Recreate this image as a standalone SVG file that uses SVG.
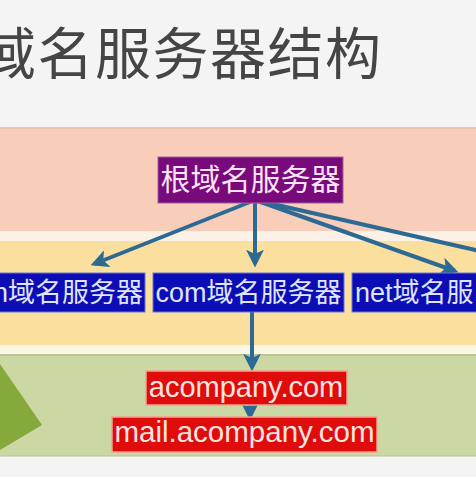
<svg xmlns="http://www.w3.org/2000/svg" width="476" height="477" viewBox="0 0 476 477">
  <style>
    .title { font-family: "Noto Sans CJK SC", sans-serif; font-size: 56px; fill: #454545; letter-spacing: 1.5px; }
    .lbl { font-family: "Liberation Sans", "Noto Sans CJK SC", sans-serif; }
    .root-t { font-size: 30px; fill: #fbe2f6; }
    .blue-t { font-size: 27px; fill: #dfe4ff; }
    .red-t { font-size: 29px; fill: #ffe4e0; }
    .blue { fill: #0d0db6; stroke: #6b74d8; stroke-width: 1; }
    .red { fill: #e00b0b; stroke: #f5a090; stroke-width: 1.5; }
    .conn line { stroke: #2c6a94; stroke-width: 4; marker-end: url(#ah); }
  </style>
  <defs>
    <marker id="ah" viewBox="0 0 10 10" refX="8" refY="5" markerWidth="4.5" markerHeight="4.5" orient="auto" markerUnits="strokeWidth">
      <path d="M0,0 L10,5 L0,10 L2.5,5 Z" fill="#2c6a94"/>
    </marker>
  </defs>

  <!-- background and bands -->
  <rect x="0" y="0" width="476" height="477" fill="#f4f4f4"/>
  <rect x="0" y="127" width="476" height="104" fill="#f8ceba"/>
  <line x1="0" y1="128" x2="476" y2="128" stroke="#e8c0ad" stroke-width="1.5"/>
  <rect x="0" y="231" width="476" height="10" fill="#fbf1e6"/>
  <rect x="0" y="241" width="476" height="104" fill="#fbdf9e"/>
  <rect x="0" y="345" width="476" height="9" fill="#fbf6e4"/>
  <rect x="0" y="354" width="476" height="102" fill="#cbd8a3"/>
  <line x1="0" y1="355" x2="476" y2="355" stroke="#a9b48a" stroke-width="1.2"/>
  <line x1="0" y1="456" x2="476" y2="456" stroke="#b9c199" stroke-width="1"/>
  <polygon points="0,364 42,425 0,450" fill="#85a93b"/>

  <text class="title" x="-20" y="74">域名服务器结构</text>

  <!-- connectors -->
  <g id="connectors" class="conn">
    <line x1="255" y1="200" x2="94" y2="264"/>
    <line x1="255" y1="200" x2="255" y2="264"/>
    <line x1="255" y1="200" x2="455" y2="271"/>
    <line x1="255" y1="200" x2="480" y2="251" style="marker-end:none"/>
    <line x1="252" y1="308" x2="252" y2="368"/>
    <line x1="250" y1="403" x2="250" y2="417"/>
  </g>

  <g id="root">
    <rect x="158" y="157" width="185" height="46" fill="#780a7c" stroke="#a060a0" stroke-width="1"/>
    <text class="lbl root-t" x="250.5" y="190" text-anchor="middle">根域名服务器</text>
  </g>

  <g id="cn">
    <rect class="blue" x="-2" y="273" width="147" height="39"/>
    <text class="lbl blue-t" x="143" y="302" text-anchor="end">n域名服务器</text>
  </g>

  <g id="com">
    <rect class="blue" x="153" y="273" width="191" height="39"/>
    <text class="lbl blue-t" x="248.5" y="302" text-anchor="middle">com域名服务器</text>
  </g>

  <g id="net">
    <rect class="blue" x="352" y="273" width="130" height="39"/>
    <text class="lbl blue-t" x="355" y="302">net域名服</text>
  </g>

  <g id="acompany">
    <rect class="red" x="146" y="371" width="201" height="34"/>
    <text class="lbl red-t" x="246" y="397" text-anchor="middle">acompany.com</text>
  </g>

  <g id="mail">
    <rect class="red" x="112" y="417" width="265" height="35"/>
    <text class="lbl red-t" x="244.5" y="442" text-anchor="middle" style="font-size:29.5px">mail.acompany.com</text>
  </g>
</svg>
